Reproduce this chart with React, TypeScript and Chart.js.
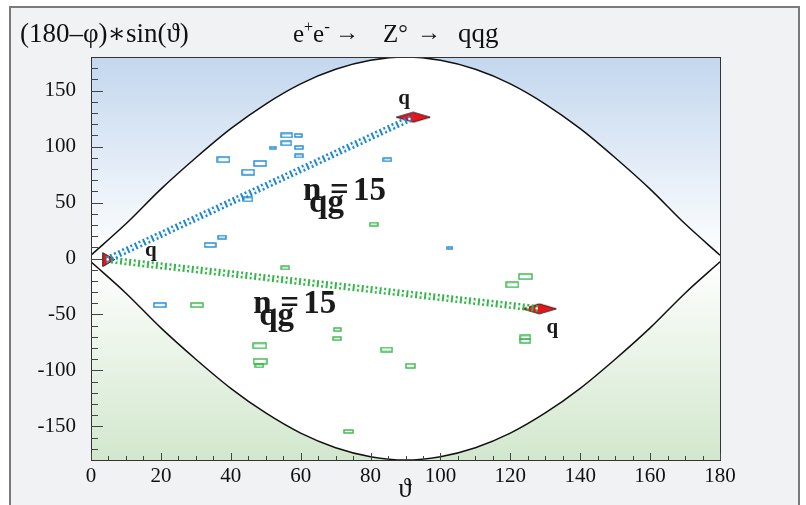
import { useEffect, useRef } from "react";
import { Chart, registerables } from "chart.js";
Chart.register(...registerables);

const FONT = '"Liberation Serif", "DejaVu Serif", serif';

// envelope ±180·sin(θ)
const envTheta = [0, 10, 20, 30, 40, 50, 60, 70, 80, 90, 100, 110, 120, 130, 140, 150, 160, 170, 180];
const envUpper = [3, 31, 62, 90, 116, 138, 156, 169, 177, 180, 177, 169, 156, 138, 116, 90, 62, 31, 3];
const envLower = [-3, -31, -62, -90, -116, -138, -156, -169, -177, -180, -177, -169, -156, -138, -116, -90, -62, -31, -3];

// boxes (2D histogram cells): centre and relative content
const blueBoxX = [56.0, 59.3, 55.9, 59.5, 52.0, 59.5, 37.9, 48.4, 45.0, 84.8, 44.9, 37.5, 34.1, 102.7, 19.7];
const blueBoxY = [109.9, 109.9, 102.9, 99.1, 99.1, 91.6, 88.3, 84.9, 77.1, 88.2, 52.8, 19.1, 12.1, 9.3, -41.6];
const blueBoxC = [0.77, 0.52, 0.72, 0.59, 0.44, 0.59, 0.89, 0.9, 0.9, 0.59, 0.69, 0.59, 0.82, 0.38, 0.85];

const greenBoxX = [80.9, 55.6, 30.3, 124.3, 120.6, 48.3, 70.5, 70.4, 84.6, 48.4, 48.2, 91.4, 124.3, 124.3, 73.7];
const greenBoxY = [30.7, -8.4, -41.6, -16.2, -23.5, -78.0, -63.5, -71.6, -81.3, -91.9, -95.9, -95.9, -70.5, -73.5, -154.5];
const greenBoxC = [0.56, 0.56, 0.87, 0.98, 0.89, 0.98, 0.48, 0.56, 0.77, 1.0, 0.58, 0.69, 0.72, 0.72, 0.64];

// jets
const jetOriginX = 4.5;
const jetOriginY = -1;
const blueJetEndX = 92.2;
const blueJetEndY = 126.2;
const greenJetEndX = 128.3;
const greenJetEndY = -44.9;

// multiplicity labels
const nLabelX = [60.7, 46.4];
const nLabelY = [52, -48.5];
const nLabelValue = [15, 15];

const xTicks = [0, 20, 40, 60, 80, 100, 120, 140, 160, 180];
const yTicks = [-150, -100, -50, 0, 50, 100, 150];

const BLUE = "#1c89d2";
const GREEN = "#35b64a";

function makeBox(c: number, color: string) {
  const w = Math.max(4, 13 * c);
  const h = Math.max(2, 4.5 * c);
  const cv = document.createElement("canvas");
  cv.width = Math.ceil(w) + 2;
  cv.height = Math.ceil(h) + 2;
  const g = cv.getContext("2d")!;
  g.strokeStyle = color;
  g.lineWidth = 1.4;
  g.strokeRect(1, 1, cv.width - 2, cv.height - 2);
  return cv;
}

function makeDiamond() {
  const cv = document.createElement("canvas");
  cv.width = 36;
  cv.height = 12;
  const g = cv.getContext("2d")!;
  g.beginPath();
  g.moveTo(1, 6);
  g.lineTo(18, 1);
  g.lineTo(35, 6);
  g.lineTo(18, 11);
  g.closePath();
  g.fillStyle = "#e8141c";
  g.fill();
  g.strokeStyle = "#3a2020";
  g.lineWidth = 1;
  g.stroke();
  return cv;
}

const decorPlugin = {
  id: "decor",
  beforeDraw(chart: any) {
    const { ctx, chartArea: a } = chart;
    ctx.save();
    ctx.fillStyle = "#ffffff";
    ctx.fillRect(0, 0, chart.width, chart.height);
    ctx.fillStyle = "#f1f2f4";
    ctx.fillRect(10, 7, 789, 500);
    ctx.strokeStyle = "#7a7a7a";
    ctx.lineWidth = 2;
    ctx.beginPath();
    ctx.moveTo(10, 510);
    ctx.lineTo(10, 7);
    ctx.lineTo(799, 7);
    ctx.lineTo(799, 510);
    ctx.stroke();
    const grad = ctx.createLinearGradient(0, a.top, 0, a.bottom);
    grad.addColorStop(0, "#c3d7ee");
    grad.addColorStop(0.5, "#ffffff");
    grad.addColorStop(1, "#d2e7cd");
    ctx.fillStyle = grad;
    ctx.fillRect(a.left, a.top, a.right - a.left, a.bottom - a.top);
    ctx.restore();
  },
  afterDraw(chart: any) {
    const { ctx, chartArea: a, scales } = chart;
    const xs = scales.x;
    const ys = scales.y;
    ctx.save();
    // frame
    ctx.strokeStyle = "#333";
    ctx.lineWidth = 1;
    ctx.strokeRect(a.left + 0.5, a.top + 0.5, a.right - a.left, a.bottom - a.top);
    // ticks
    ctx.strokeStyle = "#444";
    ctx.beginPath();
    for (let v = -170; v <= 170; v += 10) {
      const y = Math.round(ys.getPixelForValue(v)) + 0.5;
      const len = v % 50 === 0 ? 12 : 7;
      ctx.moveTo(a.left, y);
      ctx.lineTo(a.left + len, y);
    }
    for (let v = 0; v <= 180; v += 5) {
      const x = Math.round(xs.getPixelForValue(v)) + 0.5;
      const len = v % 20 === 0 ? 7 : 4;
      ctx.moveTo(x, a.bottom);
      ctx.lineTo(x, a.bottom - len);
    }
    ctx.stroke();

    ctx.fillStyle = "#1a1a1a";
    // q labels
    ctx.font = "bold 21px " + FONT;
    ctx.textAlign = "center";
    ctx.textBaseline = "alphabetic";
    const bx = xs.getPixelForValue(blueJetEndX);
    const by = ys.getPixelForValue(blueJetEndY);
    ctx.fillText("q", bx - 9, by - 13);
    const gx = xs.getPixelForValue(greenJetEndX);
    const gy = ys.getPixelForValue(greenJetEndY);
    ctx.fillText("q", gx + 13, gy + 24);
    const ox = xs.getPixelForValue(jetOriginX);
    const oy = ys.getPixelForValue(jetOriginY);
    ctx.fillText("q", ox + 44, oy - 4);

    // n_qg = 15 labels (overlapping as in original)
    ctx.textAlign = "left";
    for (let i = 0; i < nLabelX.length; i++) {
      const px = xs.getPixelForValue(nLabelX[i]);
      const py = ys.getPixelForValue(nLabelY[i]);
      ctx.font = "bold 33px " + FONT;
      ctx.fillText("n", px, py);
      ctx.fillText("=", px + 27, py);
      ctx.fillText("15", px + 50, py);
      ctx.fillText("qg", px + 6, py + 12);
    }

    // titles
    ctx.fillStyle = "#111";
    ctx.font = "27px " + FONT;
    ctx.fillText("(180\u2013\u03c6)\u2217sin(\u03d1)", 20, 42);

    const put = (t: string, size: number, x: number, dy: number) => {
      ctx.font = size + "px " + FONT;
      ctx.fillText(t, x, 42 + dy);
      return x + ctx.measureText(t).width;
    };
    let x = put("e", 25, 293, 0);
    x = put("+", 16, x, -10);
    x = put("e", 25, x, 0);
    put("-", 17, x, -10);
    put("\u2192", 24, 335, -2);
    x = put("Z", 25, 383, 0);
    put("\u00b0", 24, x, -1);
    put("\u2192", 24, 417, -2);
    put("qqg", 27, 458, 0);

    // x axis title
    ctx.font = "27px " + FONT;
    ctx.textAlign = "center";
    ctx.fillText("\u03d1", 405, 497);
    ctx.restore();
  },
};

function jetDatasets(endX: number, endY: number, color: string) {
  const data = [
    { x: jetOriginX, y: jetOriginY },
    { x: endX, y: endY },
  ];
  return [
    {
      data,
      showLine: true,
      borderColor: color,
      borderWidth: 7,
      borderDash: [2, 2.5],
      pointRadius: 0,
      order: 2,
    },
    {
      data,
      showLine: true,
      borderColor: "rgba(255,255,255,0.9)",
      borderWidth: 2,
      borderDash: [2.5, 6.5],
      borderDashOffset: 0.5,
      pointRadius: 0,
      order: 1,
    },
  ];
}

export default function App() {
  const ref = useRef<HTMLCanvasElement>(null);
  useEffect(() => {
    const blueBoxes = blueBoxC.map((c) => makeBox(c, BLUE));
    const greenBoxes = greenBoxC.map((c) => makeBox(c, GREEN));
    const diamond = makeDiamond();
    const chart = new Chart(ref.current!, {
      type: "scatter",
      data: {
        datasets: [
          {
            data: envTheta.map((t, i) => ({ x: t, y: envUpper[i] })),
            showLine: true,
            borderColor: "#111",
            borderWidth: 1.5,
            pointRadius: 0,
            cubicInterpolationMode: "monotone",
            fill: 1,
            backgroundColor: "#ffffff",
            order: 10,
          },
          {
            data: envTheta.map((t, i) => ({ x: t, y: envLower[i] })),
            showLine: true,
            borderColor: "#111",
            borderWidth: 1.5,
            pointRadius: 0,
            cubicInterpolationMode: "monotone",
            fill: false,
            order: 9,
          },
          {
            data: blueBoxX.map((x, i) => ({ x, y: blueBoxY[i] })),
            pointStyle: (c: any) => blueBoxes[c.dataIndex],
            pointRadius: 5,
            order: 5,
          },
          {
            data: greenBoxX.map((x, i) => ({ x, y: greenBoxY[i] })),
            pointStyle: (c: any) => greenBoxes[c.dataIndex],
            pointRadius: 5,
            order: 5,
          },
          {
            data: [
              { x: blueJetEndX, y: blueJetEndY },
              { x: greenJetEndX, y: greenJetEndY },
            ],
            pointStyle: diamond,
            pointRadius: 10,
            order: 3,
          },
          {
            data: [{ x: jetOriginX, y: jetOriginY }],
            pointStyle: "triangle",
            rotation: 90,
            pointRadius: 8,
            backgroundColor: "#e8141c",
            borderColor: "#3a2020",
            borderWidth: 1,
            order: 3,
          },
          ...jetDatasets(blueJetEndX, blueJetEndY, BLUE),
          ...jetDatasets(greenJetEndX, greenJetEndY, GREEN),
        ],
      } as any,
      options: {
        animation: false,
        responsive: false,
        devicePixelRatio: 1,
        layout: { padding: { left: 8, top: 57, right: 86, bottom: 0 } },
        plugins: { legend: { display: false }, tooltip: { enabled: false } },
        events: [],
        scales: {
          x: {
            type: "linear",
            min: 0,
            max: 180,
            afterBuildTicks: (s: any) => {
              s.ticks = xTicks.map((v) => ({ value: v }));
            },
            afterFit: (s: any) => {
              s.height = 45;
            },
            grid: { display: false, drawTicks: false },
            border: { display: false },
            ticks: {
              color: "#111",
              padding: 4,
              maxRotation: 0,
              font: { family: FONT, size: 21 },
            },
          },
          y: {
            type: "linear",
            min: -180,
            max: 180,
            afterBuildTicks: (s: any) => {
              s.ticks = yTicks.map((v) => ({ value: v }));
            },
            afterFit: (s: any) => {
              s.width = 83;
            },
            grid: { display: false, drawTicks: false },
            border: { display: false },
            ticks: {
              color: "#111",
              padding: 15,
              font: { family: FONT, size: 21 },
            },
          },
        },
      } as any,
      plugins: [decorPlugin],
    });
    return () => chart.destroy();
  }, []);
  return (
    <div style={{ position: "fixed", left: 0, top: 0, width: 806, height: 505 }}>
      <canvas ref={ref} width={806} height={505} style={{ display: "block" }} />
    </div>
  );
}
